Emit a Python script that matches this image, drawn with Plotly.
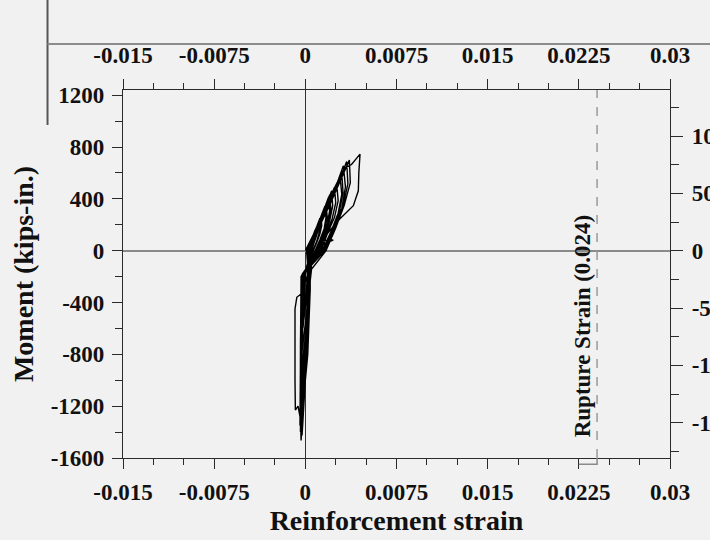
import plotly.graph_objects as go

# ---- data (one row per load cycle) ----
strain = [
    0.0000, 0.0002, 0.0004, 0.0006, 0.0008, 0.00085, 0.0007, 0.00055, 0.0004, 0.0000, -0.0001, -0.00015, 0.0001, 0.0002,
    0.0001, 0.00025, 0.00045, 0.00065, 0.0008, 0.00088, 0.00075, 0.0006, 0.00045, -0.00005, -0.00015, -0.0002, 0.0001, 0.0002,
    0.0001, 0.0004, 0.0007, 0.00095, 0.0012, 0.00125, 0.0011, 0.0009, 0.0006, -0.0001, -0.0002, -0.00025, 0.00015, 0.0002,
    0.0002, 0.00045, 0.00075, 0.0010, 0.0013, 0.00135, 0.0012, 0.00095, 0.00065, -0.0001, -0.0002, -0.0003, 0.0001, 0.00025,
    0.0002, 0.0005, 0.0009, 0.00125, 0.0016, 0.0017, 0.00155, 0.0012, 0.0008, -0.00015, -0.00025, -0.0003, 0.00015, 0.0002,
    0.0002, 0.00055, 0.00095, 0.0013, 0.0017, 0.0018, 0.0016, 0.00125, 0.00085, -0.00015, -0.00025, -0.00032, 0.0001, 0.00025,
    0.0002, 0.0006, 0.00105, 0.0015, 0.0019, 0.0020, 0.0018, 0.0014, 0.0009, -0.0002, -0.0003, -0.00035, 0.00015, 0.00025,
    0.00025, 0.00065, 0.0011, 0.00155, 0.0020, 0.0021, 0.0019, 0.0015, 0.0010, -0.0002, -0.0003, -0.00035, 0.0001, 0.0003,
    0.00025, 0.0007, 0.0012, 0.0017, 0.00217, 0.00225, 0.0020, 0.0016, 0.0011, -0.00025, -0.0003, -0.00038, 0.0002, 0.0003,
    0.0003, 0.00075, 0.0013, 0.0018, 0.0024, 0.0025, 0.0022, 0.0017, 0.0012, -0.00025, -0.00035, -0.0004, 0.00015, 0.0003,
    0.0003, 0.0008, 0.0014, 0.0020, 0.00258, 0.0027, 0.0024, 0.0018, 0.0013, -0.0003, -0.00035, -0.0004, 0.0002, 0.00035,
    0.0003, 0.0009, 0.0016, 0.0022, 0.00285, 0.0030, 0.0027, 0.0021, 0.0014, -0.0003, -0.0004, -0.00042, 0.0001, 0.00035,
    0.00035, 0.00095, 0.0017, 0.0023, 0.0030, 0.0031, 0.0028, 0.0022, 0.0015, -0.0003, -0.0004, -0.00042, 0.00015, 0.0004,
    0.00035, 0.0010, 0.0018, 0.0025, 0.00313, 0.0033, 0.0030, 0.0023, 0.0015, -0.00035, -0.0004, -0.00044, 0.0002, 0.0004,
    0.0004, 0.0011, 0.0019, 0.0027, 0.0034, 0.0035, 0.0031, 0.0024, 0.0016, -0.00035, -0.0004, -0.0004, 0.0002, 0.0004,
    0.0004, 0.0011, 0.0020, 0.0028, 0.00362, 0.0037, 0.0032, 0.0025, 0.0017, 0.0002, -0.0003, -0.0007, -0.00085, -0.00085,
    -0.00082, -0.0006, -0.0004, -0.00035, 0.0000, 0.0002, 0.0005,
    0.0005, 0.0012, 0.0019, 0.0027, 0.0033, 0.0038, 0.0045, 0.0044, 0.00436, 0.00395, 0.00285, 0.0020, 0.00135,
    0.0023, 0.0016, 0.0008, -0.0002, -0.0003, -0.00027, 0.0000, 0.0001,
]
moment = [
    0, 38, 75, 112, 150, 112, 75, 38, 0, -180, -350, -500, -300, -100,
    0, 40, 80, 120, 160, 120, 80, 40, 0, -180, -400, -600, -350, -120,
    0, 62, 125, 188, 250, 188, 125, 62, 0, -180, -450, -750, -450, -150,
    0, 65, 130, 195, 260, 195, 130, 65, 0, -180, -500, -800, -500, -150,
    0, 85, 170, 255, 340, 255, 170, 85, 0, -180, -500, -900, -550, -160,
    0, 88, 175, 262, 350, 262, 175, 88, 0, -180, -550, -950, -600, -170,
    0, 102, 205, 308, 410, 308, 205, 102, 0, -180, -550, -1050, -600, -180,
    0, 108, 215, 322, 430, 322, 215, 108, 0, -180, -600, -1100, -650, -190,
    0, 115, 231, 346, 462, 346, 231, 115, 0, -180, -600, -1150, -650, -200,
    0, 122, 245, 368, 490, 368, 245, 122, 0, -190, -650, -1200, -700, -200,
    0, 128, 257, 385, 514, 385, 257, 128, 0, -190, -650, -1230, -700, -220,
    0, 145, 289, 434, 578, 434, 289, 145, 0, -200, -700, -1300, -750, -240,
    0, 150, 300, 450, 600, 450, 300, 150, 0, -200, -700, -1320, -750, -250,
    0, 164, 328, 491, 655, 491, 328, 164, 0, -200, -720, -1350, -800, -260,
    0, 172, 344, 516, 688, 516, 344, 172, 0, -200, -750, -1400, -800, -300,
    0, 175, 350, 524, 699, 524, 350, 175, 0, -180, -330, -360, -450, -1000,
    -1230, -1200, -1300, -1464, -900, -400, -150,
    0, 200, 390, 540, 640, 665, 745, 600, 462, 347, 247, 154, 77,
    82, 56, 0, -200, -800, -1426, -1000, -500,
]

x_ticks = [-0.015, -0.0075, 0, 0.0075, 0.015, 0.0225, 0.03]
x_labels = ["-0.015", "-0.0075", "0", "0.0075", "0.015", "0.0225", "0.03"]
y_ticks = [-1600, -1200, -800, -400, 0, 400, 800, 1200]
y_labels = ["-1600", "-1200", "-800", "-400", "0", "400", "800", "1200"]
y2_ticks = [-150, -100, -50, 0, 50, 100]
y2_labels = ["-150", "-100", "-50", "0", "50", "100"]
rupture_strain = 0.024

x_range = [-0.015, 0.03]
y_range = [-1600, 1240]
KIPIN_TO_KNM = 0.113
y2_range = [y_range[0] * KIPIN_TO_KNM, y_range[1] * KIPIN_TO_KNM]

BG = "#f1f1f1"
AX = "#2a2a2a"
FONT = "Liberation Serif"
tickfont = dict(family=FONT, size=23, color="#111", weight="bold")
titlefont = dict(family=FONT, size=28, color="#111", weight="bold")

fig = go.Figure()
fig.add_trace(go.Scatter(x=strain, y=moment, mode="lines",
                         line=dict(color="black", width=1.4), showlegend=False,
                         hoverinfo="skip"))
# empty trace so the secondary axes get drawn
fig.add_trace(go.Scatter(x=[], y=[], xaxis="x2", yaxis="y2", showlegend=False))

common = dict(showgrid=False, automargin=False, tickcolor=AX, tickwidth=1,
              showline=True, linecolor=AX, linewidth=1.2, tickfont=tickfont,
              ticks="outside")

fig.update_layout(
    width=710, height=540,
    margin=dict(l=123, r=40, t=90, b=82),
    paper_bgcolor=BG, plot_bgcolor=BG,
    showlegend=False,
    xaxis=dict(
        range=x_range, tickmode="array", tickvals=x_ticks, ticktext=x_labels,
        ticklen=10,
        minor=dict(dtick=0.0025, tick0=0, ticks="outside", ticklen=6,
                   tickwidth=1, tickcolor=AX),
        zeroline=True, zerolinecolor="#333", zerolinewidth=1,
        ticklabelstandoff=3,
        title=dict(text="Reinforcement strain", standoff=6, font=titlefont),
        **common,
    ),
    xaxis2=dict(
        range=x_range, overlaying="x", side="top", anchor="y",
        tickmode="array", tickvals=x_ticks, ticktext=x_labels,
        ticklen=10,
        minor=dict(dtick=0.0025, tick0=0, ticks="outside", ticklen=6,
                   tickwidth=1, tickcolor=AX),
        zeroline=False, ticklabelstandoff=7,
        **common,
    ),
    yaxis=dict(
        range=y_range, tickmode="array", tickvals=y_ticks, ticktext=y_labels,
        ticklen=10,
        minor=dict(dtick=200, tick0=0, ticks="outside", ticklen=7,
                   tickwidth=1, tickcolor=AX),
        zeroline=True, zerolinecolor="#8a8a8a", zerolinewidth=1.5,
        ticklabelstandoff=3,
        title=dict(text="Moment (kips-in.)", standoff=8, font=titlefont),
        **common,
    ),
    yaxis2=dict(
        range=y2_range, overlaying="y", side="right", anchor="x",
        tickmode="array", tickvals=y2_ticks, ticktext=y2_labels,
        ticklen=12,
        minor=dict(dtick=25, tick0=0, ticks="outside", ticklen=8,
                   tickwidth=1, tickcolor=AX),
        zeroline=False, ticklabelstandoff=4,
        **common,
    ),
)

# rupture strain marker
fig.add_shape(type="line", xref="x", yref="paper", x0=rupture_strain, x1=rupture_strain,
              y0=0, y1=1, line=dict(color="#9a9a9a", width=1.5, dash="dash"))
fig.add_annotation(x=0.0228, y=-580, xref="x", yref="y", text="Rupture Strain (0.024)",
                   textangle=-90, showarrow=False,
                   font=dict(family=FONT, size=23, color="#111", weight="bold"))
# small bracket under the axis at the rupture line
fig.add_shape(type="path", xref="paper", yref="paper",
              path="M 0.8333 -0.017 L 0.8667 -0.017 L 0.8667 0",
              line=dict(color="#8a8a8a", width=1.5))

# scan border lines of the source page
fig.add_shape(type="line", xref="paper", yref="paper", x0=-0.138, x1=-0.138,
              y0=0.905, y1=1.25, line=dict(color="#555", width=2))
fig.add_shape(type="line", xref="paper", yref="paper", x0=-0.138, x1=1.08,
              y0=1.125, y1=1.125, line=dict(color="#8c8c8c", width=2))

page_js = ("document.body.style.margin='0';"
           "document.body.style.background='" + BG + "';"
           "document.documentElement.style.background='" + BG + "';")
fig.write_html("out.html", post_script=page_js,
               config={"displayModeBar": False})
